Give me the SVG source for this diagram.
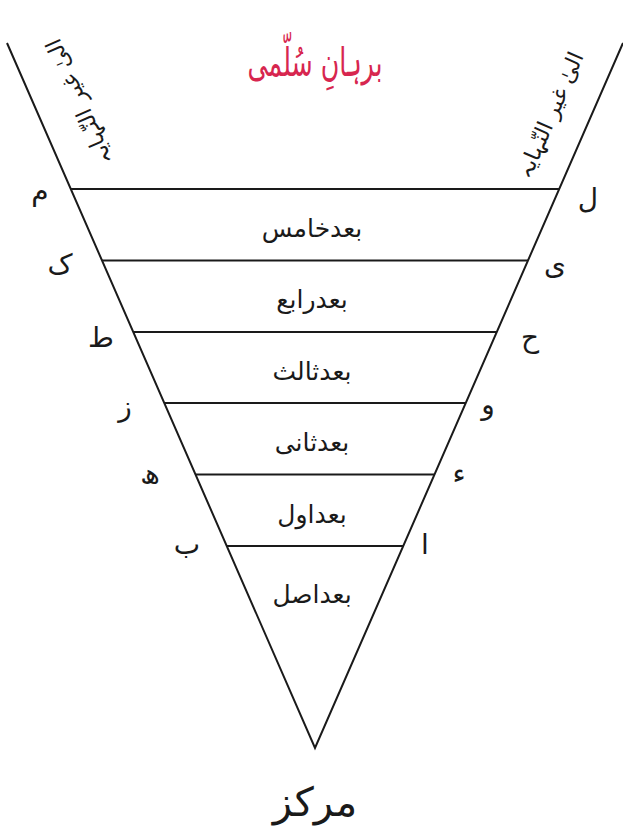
<svg xmlns="http://www.w3.org/2000/svg" width="623" height="832" viewBox="0 0 623 832">
<style>
.ln{stroke:#1a1a1a;stroke-width:2;fill:none}
.u{font-family:"DejaVu Sans",sans-serif;fill:#1a1a1a;text-anchor:middle;direction:rtl}
.band{font-size:25px}
.let{font-size:28px}
.side{font-size:22px}
.title{font-size:40px;fill:#d7264f}
</style>
<rect width="623" height="832" fill="#ffffff"/>
<g id="title"><text class="u title" x="315" y="76" textLength="135" lengthAdjust="spacingAndGlyphs">برہانِ سُلّمی</text></g>
<g id="connectors">
<polyline class="ln" points="7,43 315,748 623,43"/>
<line class="ln" x1="71" y1="189" x2="559" y2="189"/>
<line class="ln" x1="102" y1="260.5" x2="528" y2="260.5"/>
<line class="ln" x1="134" y1="332" x2="496" y2="332"/>
<line class="ln" x1="165" y1="403" x2="465" y2="403"/>
<line class="ln" x1="196" y1="474.5" x2="434" y2="474.5"/>
<line class="ln" x1="227" y1="546" x2="403" y2="546"/>
</g>
<g id="side-left"><text class="u side" transform="translate(86,99) rotate(-113.6)" textLength="135" lengthAdjust="spacingAndGlyphs">الیٰ غیر النّہایہ</text></g>
<g id="side-right"><text class="u side" transform="translate(557,118) rotate(-66.4)" textLength="135" lengthAdjust="spacingAndGlyphs">الیٰ غیر النّہایہ</text></g>
<g id="band5"><text class="u band" x="312" y="237">بعدخامس</text></g>
<g id="band4"><text class="u band" x="312" y="308">بعدرابع</text></g>
<g id="band3"><text class="u band" x="312" y="380">بعدثالث</text></g>
<g id="band2"><text class="u band" x="312" y="451">بعدثانی</text></g>
<g id="band1"><text class="u band" x="312" y="523">بعداول</text></g>
<g id="band0"><text class="u band" x="312" y="603">بعداصل</text></g>
<g id="letters-left">
<text class="u let" x="40" y="200">م</text>
<text class="u let" x="60" y="274">ک</text>
<text class="u let" x="101" y="347">ط</text>
<text class="u let" x="125" y="416">ز</text>
<text class="u let" x="150" y="484">ھ</text>
<text class="u let" x="187" y="554">ب</text>
</g>
<g id="letters-right">
<text class="u let" x="588" y="208">ل</text>
<text class="u let" x="555" y="274">ی</text>
<text class="u let" x="530" y="347">ح</text>
<text class="u let" x="488" y="414">و</text>
<text class="u let" x="459" y="483">ء</text>
<text class="u let" x="425" y="554">ا</text>
</g>
<g id="center"><text class="u" style="font-size:40px" x="315" y="816">مرکز</text></g>
</svg>
